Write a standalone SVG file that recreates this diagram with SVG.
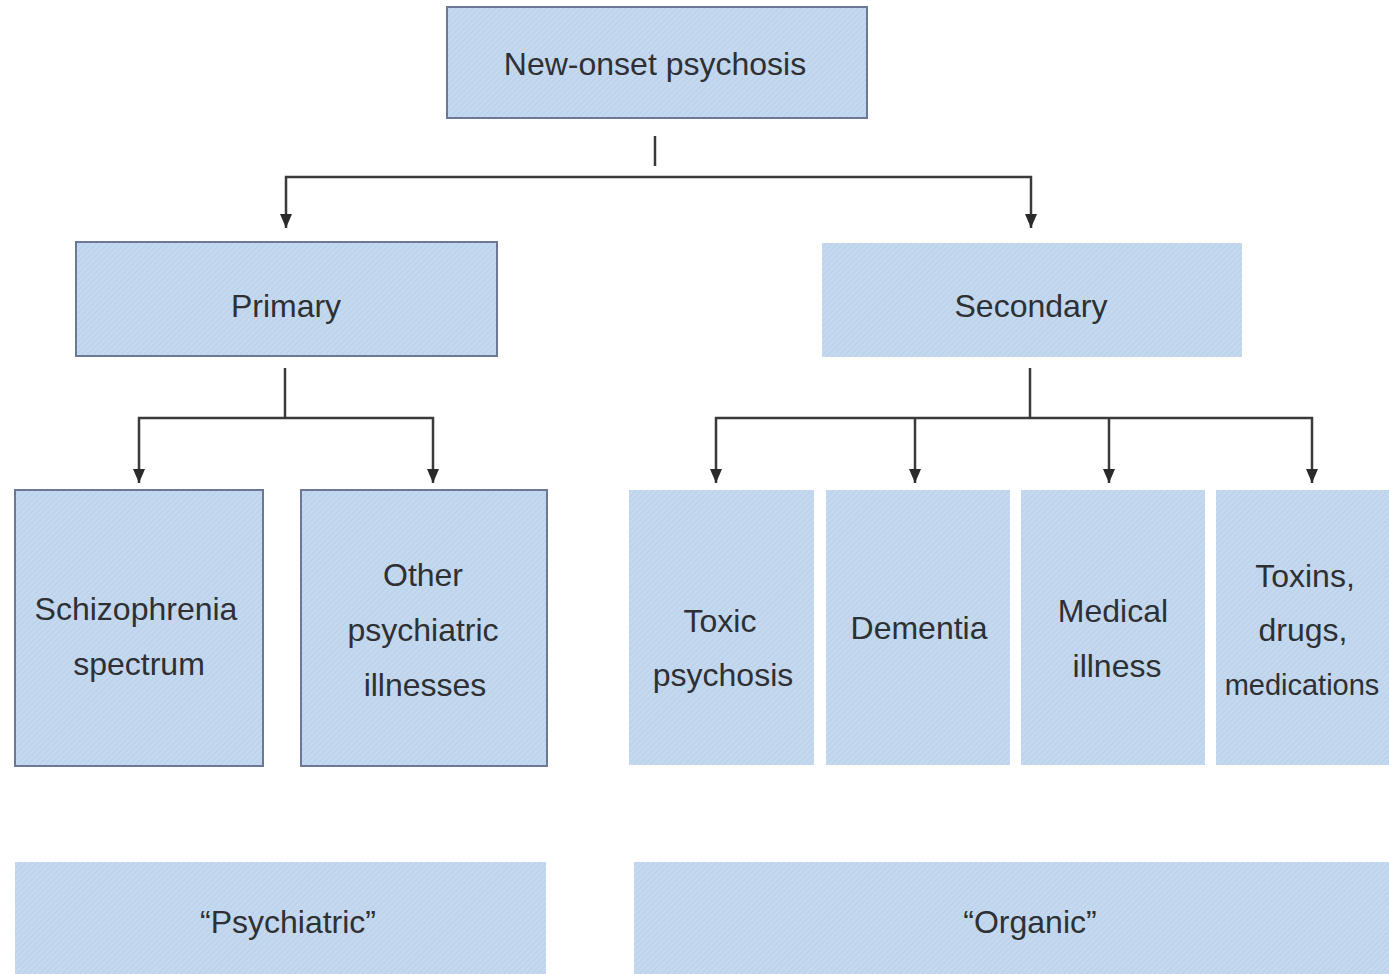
<svg xmlns="http://www.w3.org/2000/svg" width="1389" height="974" viewBox="0 0 1389 974">
<style>
.box{fill:url(#hatch)}
.bd{stroke:#6b7896;stroke-width:2}
.t{font-family:"Liberation Sans",Arial,sans-serif;font-size:32px;fill:#2e3033;text-anchor:middle}
.c{fill:none;stroke:#3a3a3a;stroke-width:2.5}
</style>
<defs>
<pattern id="hatch" width="4" height="4" patternUnits="userSpaceOnUse" patternTransform="rotate(45)">
<rect width="4" height="4" fill="#c4d9ef"/>
<line x1="0" y1="0" x2="0" y2="4" stroke="#b3cae4" stroke-width="1.2"/>
</pattern>
<marker id="arr" viewBox="0 0 14 12" refX="14" refY="6" markerWidth="14" markerHeight="12" markerUnits="userSpaceOnUse" orient="auto-start-reverse">
<path d="M0,0 L14,6 L0,12 Z" fill="#2a2a2a"/>
</marker>
</defs>
<rect width="1389" height="974" fill="#ffffff"/>
<g id="connectors">
<line class="c" x1="655" y1="136" x2="655" y2="166"/>
<path class="c" d="M286,228 V177 H1031 V228" marker-start="url(#arr)" marker-end="url(#arr)"/>
<line class="c" x1="285" y1="368" x2="285" y2="418"/>
<path class="c" d="M139,483 V418 H433 V483" marker-start="url(#arr)" marker-end="url(#arr)"/>
<line class="c" x1="1030" y1="368" x2="1030" y2="418"/>
<path class="c" d="M716,483 V418 H1312 V483" marker-start="url(#arr)" marker-end="url(#arr)"/>
<line class="c" x1="915" y1="418" x2="915" y2="483" marker-end="url(#arr)"/>
<line class="c" x1="1109" y1="418" x2="1109" y2="483" marker-end="url(#arr)"/>
</g>
<g id="n-new-onset">
<rect class="box bd" x="447" y="7" width="420" height="111"/>
<text class="t" x="655" y="75">New-onset psychosis</text>
</g>
<g id="n-primary">
<rect class="box bd" x="76" y="242" width="421" height="114"/>
<text class="t" x="286" y="317">Primary</text>
</g>
<g id="n-secondary">
<rect class="box" x="822" y="243" width="420" height="114"/>
<text class="t" x="1031" y="317">Secondary</text>
</g>
<g id="n-schizophrenia">
<rect class="box bd" x="15" y="490" width="248" height="276"/>
<text class="t" x="136" y="620">Schizophrenia</text>
<text class="t" x="139" y="675">spectrum</text>
</g>
<g id="n-other">
<rect class="box bd" x="301" y="490" width="246" height="276"/>
<text class="t" x="423" y="586">Other</text>
<text class="t" x="423" y="641">psychiatric</text>
<text class="t" x="425" y="696">illnesses</text>
</g>
<g id="n-toxic">
<rect class="box" x="629" y="490" width="185" height="275"/>
<text class="t" x="720" y="632">Toxic</text>
<text class="t" x="723" y="686">psychosis</text>
</g>
<g id="n-dementia">
<rect class="box" x="826" y="490" width="184" height="275"/>
<text class="t" x="919" y="639">Dementia</text>
</g>
<g id="n-medical">
<rect class="box" x="1021" y="490" width="184" height="275"/>
<text class="t" x="1113" y="622">Medical</text>
<text class="t" x="1117" y="677">illness</text>
</g>
<g id="n-toxins">
<rect class="box" x="1216" y="490" width="173" height="275"/>
<text class="t" x="1305" y="587">Toxins,</text>
<text class="t" x="1303" y="641">drugs,</text>
<text class="t" x="1302" y="695" style="font-size:29px">medications</text>
</g>
<g id="n-psychiatric">
<rect class="box" x="15" y="862" width="531" height="112"/>
<text class="t" x="288" y="933">“Psychiatric”</text>
</g>
<g id="n-organic">
<rect class="box" x="634" y="862" width="755" height="112"/>
<text class="t" x="1030" y="933">“Organic”</text>
</g>
</svg>
